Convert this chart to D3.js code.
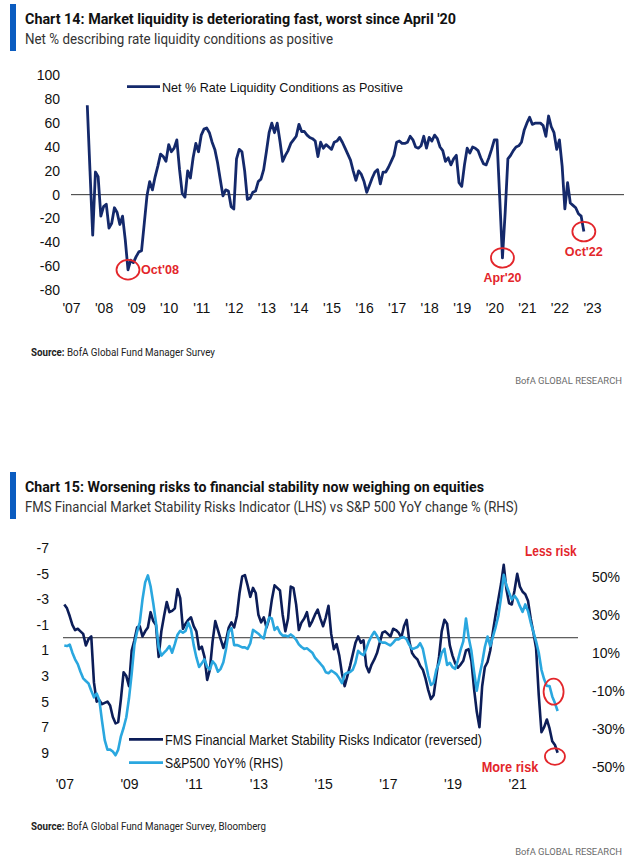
<!DOCTYPE html>
<html><head><meta charset="utf-8">
<script src="https://cdn.jsdelivr.net/npm/d3@7"></script>
<style>
body{margin:0;background:#fff;}
svg{display:block;}
</style></head><body>
<svg id="page" width="630" height="862"></svg>
<script>
// ---------- Chart 14 data (monthly, Jul 2007 - Oct 2022) ----------
const liqStartMonth = 6; // months after Jan 2007
const liqValues = [
  75, 20, -34, 19, 15, -18,
  -10, -8, -28, -24, -11, -15, -25, -18, -38, -63, -55, -57,
  -52, -48, -47, -24, -1, 11, 4, 15, 24, 34, 32, 28,
  42, 36, 39, 46, 21, 1, -2, 20, 14, 31, 43, 36,
  50, 55, 56, 52, 44, 38, 27, 13, -1, 4, 3, -10,
  -12, 30, 38, 36, 20, -4, -3, 2, 3, 11, 13, 21,
  36, 52, 60, 52, 60, 45, 28, 33, 37, 43, 46, 49,
  59, 53, 53, 50, 48, 47, 45, 32, 44, 39, 42, 40,
  38, 44, 45, 48, 44, 39, 34, 29, 20, 12, 20, 17,
  11, 2, 8, 14, 19, 21, 9, 19, 19, 23, 28, 33,
  44, 45, 43, 43, 44, 49, 46, 40, 39, 41, 49, 39,
  48, 45, 50, 47, 40, 37, 28, 31, 25, 30, 33, 10,
  7, 25, 39, 35, 40, 39, 37, 31, 26, 25, 31, 38,
  46, 46, -3, -53, -15, 30, 33, 37, 40, 41, 44, 54,
  60, 65, 59, 60, 60, 60, 58, 49, 66, 57, 52, 38,
  46, 24, -12, 10, -7, -9, -11, -16, -18, -31
];
const liqYears = [2007,2008,2009,2010,2011,2012,2013,2014,2015,2016,2017,2018,2019,2020,2021,2022,2023];
const liqYTicks = [100,80,60,40,20,0,-20,-40,-60,-80];
const liqNotes = [
  {label:"Oct'08", month:21, value:-63, pos:"right"},
  {label:"Apr'20", month:159, value:-53, pos:"below"},
  {label:"Oct'22", month:189, value:-31, pos:"below"}
];

// ---------- Chart 15 data (monthly, 184 points) ----------
const fmsValues = [
  -2.6, -2.3, -1.7, -1.0, -0.6, -0.7,
  -0.5, -0.3, 0.6, 0.1, -0.1, 3.5, 5.0, 4.9, 5.2, 5.1, 5.0, 5.3,
  6.2, 6.7, 6.6, 4.8, 2.7, 3.0, 3.8, 1.0, 0.2, -0.8, -0.9, -0.1,
  -0.5, -0.8, -2.0, -1.3, -1.0, 1.5, -0.5, -1.7, -2.8, -2.0, -2.1, -2.3,
  -3.8, -3.1, -0.7, -1.1, -1.4, -1.6, -0.9, -0.5, 0.9, 0.7, 1.5, 3.3,
  2.5, 0.3, -1.3, -0.6, 0.1, 0.8, 0.2, -0.8, -1.2, -0.8, -1.7, -3.5,
  -4.8, -4.9, -4.1, -3.2, -3.9, -3.5, -1.8, -1.2, -1.6, -0.8, -1.5, -3.0,
  -4.1, -3.9, -3.7, -1.8, -0.5, -1.5, -4.0, -3.9, -2.6, -0.6, -1.2, -1.5,
  -2.0, -0.9, -1.3, -1.8, -2.2, -1.5, -0.9, -1.6, -2.5, -0.3, 0.9, 0.5,
  1.4, 2.8, 3.8, 3.0, 2.2, 1.3, 0.4, -0.1, 0.4, 0.2, 2.2, 2.7,
  2.1, 1.7, 1.2, 0.4, -0.4, -0.5, -0.3, -0.1, -0.7, -0.6, -0.4, 0.0,
  -0.9, -1.4, 0.3, 1.2, 1.5, 1.7, 2.2, 2.5, 3.2, 4.1, 4.8, 4.5,
  3.0, 1.5, -0.5, -1.4, -1.1, 0.6, 1.4, 2.0, 2.35, 2.1, 1.8, 1.0,
  0.9, 1.8, 4.0, 5.8, 7.0, 3.8, 2.3, 1.9, 1.0, -0.5, -1.8, -3.0,
  -4.2, -5.7, -3.8, -2.7, -2.6, -3.7, -5.0, -4.0, -3.6, -3.4, -2.9, -1.5,
  -0.4, 0.8, 4.5, 7.4, 7.0, 6.4, 7.1, 8.1, 8.4, 9.0
];
const spxValues = [
  13.8, 13.5, 14.3, 10, 6.5, 4,
  0, -3.5, -4.9, -6.2, -10, -13.5, -11.5, -15, -26, -36, -41, -41,
  -42, -44, -41, -34, -29.5, -24, -14, -1, 14, 21, 26, 38,
  47, 50.7, 45, 36, 25.8, 13, 8.5, 10, 11.5, 13.5, 10, 14.5,
  19.5, 21.5, 20.5, 21.5, 25.8, 22.3, 14, 7.5, 2.5, 4.5, 6.5, 2.5,
  1.2, 5.5, 3.8, 0, 1.5, 5, 12, 21, 23, 14, 14, 13.5,
  12.8, 12.8, 12, 15, 22, 21, 20, 18.5, 17.5, 24, 28.5, 28,
  22, 23.5, 20.5, 19, 19, 18.5, 19.6, 18.5, 16.8, 14.4, 13, 12,
  12.3, 11.2, 10, 7.4, 5.8, 4.2, 2.5, -0.3, -0.8, 0.6, -0.3, -1.4,
  -3.5, -6, -1.4, -0.5, -0.2, 1, 4.7, 11, 9.5, 8.7, 12, 16,
  18.8, 21, 18.8, 16, 15.3, 15.3, 14.5, 13.8, 15.3, 17, 17, 18,
  18.2, 17, 14, 12, 12.4, 13, 15, 12, 5, -2, -7, -5.8,
  1, 4.5, 10, 12, 3.5, 4.7, 2.4, 1.5, 6, 11.5, 16, 28,
  18, 11, 0, -10, -2, 4.7, 13, 18.5, 13.5, 18.5, 23.5, 29.3,
  39, 51, 45.5, 41.6, 38, 40, 38, 34.5, 31.5, 35.4, 32, 26,
  21, 16, 10, 1, -4, -7.5, -7.5, -13, -16.5, -20.7
];
const stabYears = [2007,2009,2011,2013,2015,2017,2019,2021];
const stabLTicks = [-7,-5,-3,-1,1,3,5,7,9];
const stabRTicks = [50,30,10,-10,-30,-50];

// ---------- helpers ----------
const svg = d3.select('#page');
const NAVY = '#14296b', DARK = '#0c1d58', SKY = '#2aa7df', RED = '#e3262b', BLUE = '#0b5cc0';
const CHART_FONT = "'Liberation Sans', Arial, sans-serif";
const HEAD_FONT = "Roboto, 'Open Sans', sans-serif";
function fit(sel, w){ return sel.attr('textLength', w).attr('lengthAdjust','spacingAndGlyphs'); }
const plain = d => String(d);              // keep ASCII hyphen-minus like the original
const yr = d => "'" + String(d).slice(2);

function header(y0, title, tw, sub, sw){
  svg.append('rect').attr('x',10).attr('y',y0).attr('width',6).attr('height',47).attr('fill',BLUE);
  fit(svg.append('text').attr('x',25).attr('y',y0+20).attr('font-family',HEAD_FONT)
     .attr('font-weight',700).attr('font-size',15).attr('fill','#111').text(title), tw);
  fit(svg.append('text').attr('x',25).attr('y',y0+40).attr('font-family',HEAD_FONT)
     .attr('font-size',14).attr('fill','#333').text(sub), sw);
}
function footer(y, src, sw, yb){
  const t = svg.append('text').attr('x',31).attr('y',y).attr('font-family',HEAD_FONT)
     .attr('font-size',10.5).attr('fill','#222');
  t.append('tspan').attr('font-weight',700).text('Source: ');
  t.append('tspan').text(src);
  fit(t, sw);
  // size the brand line so its natural width ends at the right margin
  const b = svg.append('text').attr('x',622).attr('y',yb).attr('text-anchor','end')
     .attr('font-family',HEAD_FONT).attr('font-size',10.5).attr('fill','#6b6b6b')
     .text('BofA GLOBAL RESEARCH');
  const w = b.node().getComputedTextLength();
  if (w > 107) b.attr('font-size', 10.5 * 107 / w);
}
function styleAxis(g){
  g.select('.domain').remove();
  g.selectAll('.tick line').remove();
  g.selectAll('text').attr('font-family',CHART_FONT).attr('font-size',14).attr('fill','#111');
}

// ================= Chart 14 =================
header(4, "Chart 14: Market liquidity is deteriorating fast, worst since April '20", 431,
       "Net % describing rate liquidity conditions as positive", 308);

const x1 = d3.scaleLinear().domain([2007, 2023]).range([71, 592]);
const y1 = d3.scaleLinear().domain([-80, 100]).range([290, 75.5]);
const m2d = m => 2007 + m/12;

svg.append('g').attr('transform','translate(71,0)')
  .call(d3.axisLeft(y1).tickValues(liqYTicks).tickSize(0).tickPadding(11).tickFormat(plain)).call(styleAxis);
svg.append('g').attr('transform','translate(0,296)')
  .call(d3.axisBottom(x1).tickValues(liqYears).tickSize(0).tickPadding(7).tickFormat(yr)).call(styleAxis);

svg.append('line').attr('x1',71).attr('x2',624).attr('y1',y1(0)).attr('y2',y1(0))
  .attr('stroke','#333').attr('stroke-width',1);

const liqLine = d3.line().x((d,i) => x1(m2d(liqStartMonth + i))).y(d => y1(d));
svg.append('path').datum(liqValues).attr('d', liqLine).attr('fill','none')
  .attr('stroke',NAVY).attr('stroke-width',2.8).attr('stroke-linejoin','round');

// legend
svg.append('line').attr('x1',127).attr('x2',160).attr('y1',86.7).attr('y2',86.7)
  .attr('stroke',NAVY).attr('stroke-width',2.8);
fit(svg.append('text').attr('x',162).attr('y',91.5).attr('font-family',CHART_FONT)
  .attr('font-size',13.5).attr('fill','#111').text('Net % Rate Liquidity Conditions as Positive'), 241);

// annotations
liqNotes.forEach(n => {
  const cx = x1(m2d(n.month)), cy = y1(n.value);
  svg.append('ellipse').attr('cx',cx).attr('cy',cy).attr('rx',11.5).attr('ry',9.8)
    .attr('fill','none').attr('stroke',RED).attr('stroke-width',1.8);
  const t = svg.append('text').attr('font-family',CHART_FONT).attr('font-weight',700)
    .attr('font-size',13).attr('fill',RED).text(n.label);
  if (n.pos === 'right') t.attr('x', cx + 13).attr('y', cy + 4.5);
  else t.attr('x', cx - 19).attr('y', cy + 24);
  fit(t, 38);
});

footer(355.5, 'BofA Global Fund Manager Survey', 184, 384);

// ================= Chart 15 =================
header(472, "Chart 15: Worsening risks to financial stability now weighing on equities", 459,
       "FMS Financial Market Stability Risks Indicator (LHS) vs S&P 500 YoY change % (RHS)", 493);

const x2 = d3.scaleLinear().domain([2007, 2023]).range([64.3, 64.3 + 16*32.35]);
const y2L = d3.scaleLinear().domain([-7, 9]).range([548.3, 752.7]);
const y2R = d3.scaleLinear().domain([-50, 50]).range([766.7, 576.7]);

svg.append('g').attr('transform','translate(63,0)')
  .call(d3.axisLeft(y2L).tickValues(stabLTicks).tickSize(0).tickPadding(14).tickFormat(plain)).call(styleAxis);
svg.append('g').attr('transform','translate(578,0)')
  .call(d3.axisRight(y2R).tickValues(stabRTicks).tickSize(0).tickPadding(14)
        .tickFormat(d => String(d) + '%')).call(styleAxis);
svg.append('g').attr('transform','translate(0,772)')
  .call(d3.axisBottom(x2).tickValues(stabYears).tickSize(0).tickPadding(7).tickFormat(yr)).call(styleAxis);

svg.append('line').attr('x1',63).attr('x2',578).attr('y1',y2L(0)).attr('y2',y2L(0))
  .attr('stroke','#333').attr('stroke-width',1);

const fmsLine = d3.line().x((d,i) => x2(m2d(i))).y(d => y2L(d));
const spxLine = d3.line().x((d,i) => x2(m2d(i))).y(d => y2R(d));
svg.append('path').datum(fmsValues).attr('d', fmsLine).attr('fill','none')
  .attr('stroke',DARK).attr('stroke-width',2.6).attr('stroke-linejoin','round');
svg.append('path').datum(spxValues).attr('d', spxLine).attr('fill','none')
  .attr('stroke',SKY).attr('stroke-width',2.6).attr('stroke-linejoin','round');

// legend
svg.append('line').attr('x1',129).attr('x2',163).attr('y1',739.3).attr('y2',739.3)
  .attr('stroke',DARK).attr('stroke-width',2.8);
fit(svg.append('text').attr('x',165).attr('y',744.5).attr('font-family',CHART_FONT)
  .attr('font-size',15).attr('fill','#111')
  .text('FMS Financial Market Stability Risks Indicator (reversed)'), 317);
svg.append('line').attr('x1',129).attr('x2',163).attr('y1',762.7).attr('y2',762.7)
  .attr('stroke',SKY).attr('stroke-width',2.8);
fit(svg.append('text').attr('x',165).attr('y',768).attr('font-family',CHART_FONT)
  .attr('font-size',15).attr('fill','#111').text('S&P500 YoY% (RHS)'), 118);

// annotations
const spxNote = {month:181.5, value:-10.5};
const fmsNote = {month:182, value:9.3};
svg.append('ellipse').attr('cx',x2(m2d(spxNote.month))).attr('cy',y2R(spxNote.value))
  .attr('rx',10).attr('ry',13).attr('fill','none').attr('stroke',RED).attr('stroke-width',1.8);
svg.append('ellipse').attr('cx',x2(m2d(fmsNote.month))).attr('cy',y2L(fmsNote.value))
  .attr('rx',10).attr('ry',8.3).attr('fill','none').attr('stroke',RED).attr('stroke-width',1.8);
fit(svg.append('text').attr('x',525).attr('y',555.7).attr('font-family',CHART_FONT)
  .attr('font-weight',700).attr('font-size',14).attr('fill',RED).text('Less risk'), 51.7);
fit(svg.append('text').attr('x',481.7).attr('y',771.5).attr('font-family',CHART_FONT)
  .attr('font-weight',700).attr('font-size',14).attr('fill',RED).text('More risk'), 56.6);

footer(829.5, 'BofA Global Fund Manager Survey, Bloomberg', 235, 855);
</script>
</body></html>
